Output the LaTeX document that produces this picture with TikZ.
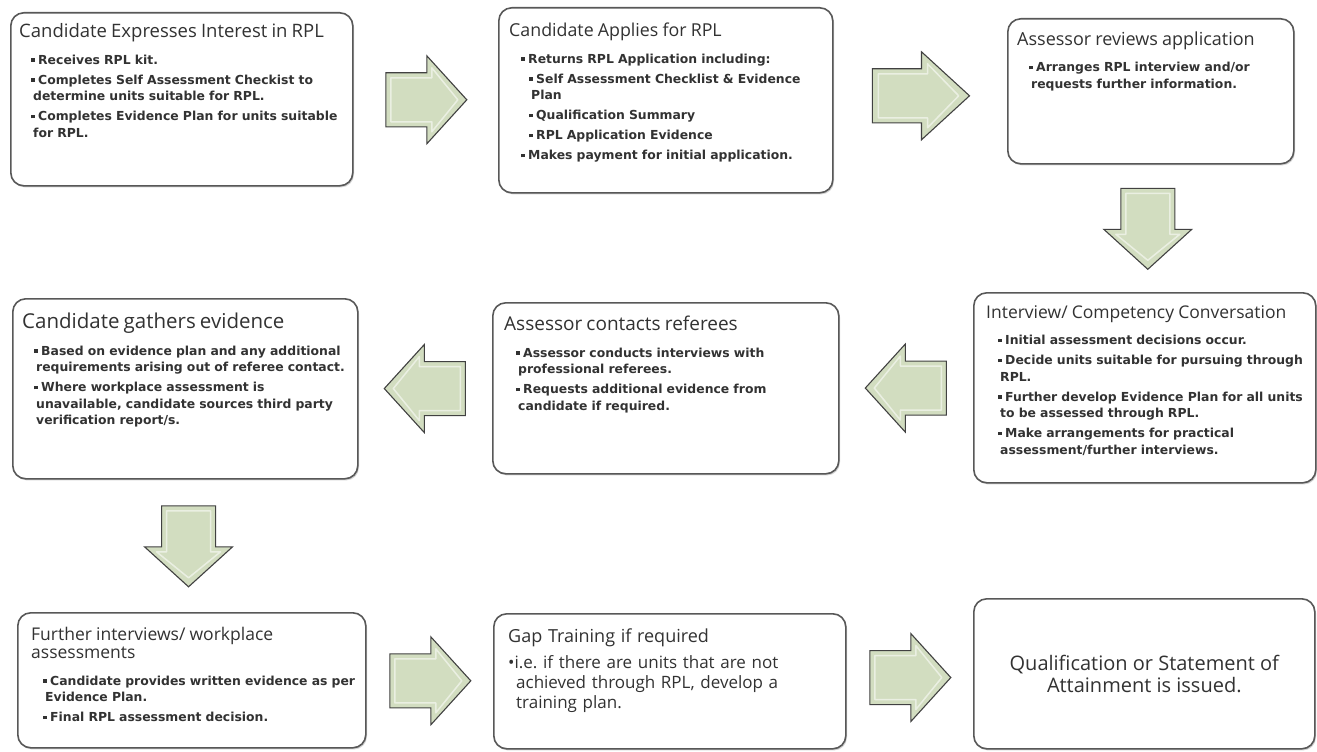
\documentclass[tikz,border=0pt]{standalone}
\usepackage{fontspec}
\setmainfont{DejaVu Sans}
\newfontfamily\headfont{Open Sans}
\usetikzlibrary{calc,shadows}
\frenchspacing

\definecolor{boxline}{RGB}{88,88,88}
\definecolor{textgray}{RGB}{50,50,50}
\definecolor{arrowfill}{RGB}{210,221,192}
\definecolor{arrowline}{RGB}{65,65,65}

\newcommand\boxhead[2]{{\noindent\headfont\mdseries\fontsize{#1}{18.5}\selectfont #2\par}\vspace{6.5pt}}
\newcommand\bitem{\par\vspace{3.5pt}\hangindent=14pt\hangafter=1\noindent\hspace*{12pt}\rule[2.5pt]{3.5pt}{3.5pt}\hspace{3.5pt}}
\newcommand\bsub{\par\vspace{3.5pt}\hangindent=22pt\hangafter=1\noindent\hspace*{20pt}\rule[2.5pt]{3.5pt}{3.5pt}\hspace{3.5pt}}

\begin{document}
\begin{tikzpicture}[x=1pt, y=-1pt,
  stepbox/.style={draw=boxline, line width=1.6pt, fill=white, rounded corners=13pt, anchor=north west, inner sep=0pt,
    drop shadow={shadow xshift=1.2pt, shadow yshift=-1.6pt, opacity=.3, fill=black!60}},
  steptext/.style={anchor=north west, inner sep=0pt, align=left, text=textgray, font=\bfseries\fontsize{12.4}{16.5}\selectfont},
  blockarrow/.pic={
    \filldraw[fill=arrowfill, draw=arrowline, line width=1.1pt] (-40,-27) -- (1,-27) -- (1,-44) -- (41,0) -- (1,44) -- (1,27) -- (-40,27) -- cycle;
    \draw[white, opacity=.55, line width=1.5pt, line join=round] (-35,-22) -- (6,-22) -- (6,-32) -- (32,0) -- (6,32) -- (6,22) -- (-35,22) -- cycle;
  }]
\useasboundingbox (0,0) rectangle (1317,752);

\node[stepbox, minimum width=342, minimum height=173] (b1) at (10,12) {};
\node[stepbox, minimum width=334, minimum height=185] (b2) at (498,7) {};
\node[stepbox, minimum width=286, minimum height=145] (b3) at (1007,18) {};
\node[stepbox, minimum width=345, minimum height=180] (b4) at (12,298) {};
\node[stepbox, minimum width=346, minimum height=171] (b5) at (492,302) {};
\node[stepbox, minimum width=342, minimum height=190] (b6) at (973,292) {};
\node[stepbox, minimum width=348, minimum height=135] (b7) at (17,612) {};
\node[stepbox, minimum width=352, minimum height=135] (b8) at (493,613) {};
\node[stepbox, minimum width=341, minimum height=150] (b9) at (973,598) {};

\node[steptext, text width=330pt] (t1) at ($(b1.north west)+(9,11.5)$) {\boxhead{18.5}{Candidate Expresses Interest in RPL}
\bitem Receives RPL kit.
\bitem Completes Self Assessment Checkist to\newline determine units suitable for RPL.
\bitem Completes Evidence Plan for units suitable\newline for RPL.\par};

\node[steptext, text width=320pt] (t2) at ($(b2.north west)+(11,16)$) {\boxhead{17.8}{Candidate Applies for RPL}
\bitem Returns RPL Application including:
\bsub Self Assessment Checklist \& Evidence\newline Plan
\bsub Qualification Summary
\bsub RPL Application Evidence
\bitem Makes payment for initial application.\par};

\node[steptext, text width=275pt] (t3) at ($(b3.north west)+(10,13.5)$) {\boxhead{18}{Assessor reviews application}
\bitem Arranges RPL interview and/or\newline requests further information.\par};

\node[steptext, text width=335pt] (t4) at ($(b4.north west)+(10,15)$) {\boxhead{20.5}{Candidate gathers evidence}
\bitem Based on evidence plan and any additional\newline requirements arising out of referee contact.
\bitem Where workplace assessment is\newline unavailable, candidate sources third party\newline verification report/s.\par};

\node[steptext, text width=330pt] (t5) at ($(b5.north west)+(12,14)$) {\boxhead{19}{Assessor contacts referees}
\bitem Assessor conducts interviews with\newline professional referees.
\bitem Requests additional evidence from\newline candidate if required.\par};

\node[steptext, text width=330pt] (t6) at ($(b6.north west)+(13,13)$) {\boxhead{17.5}{Interview/ Competency Conversation}
\bitem Initial assessment decisions occur.
\bitem Decide units suitable for pursuing through\newline RPL.
\bitem Further develop Evidence Plan for all units\newline to be assessed through RPL.
\bitem Make arrangements for practical\newline assessment/further interviews.\par};

\node[steptext, text width=335pt] (t7) at ($(b7.north west)+(14,14.5)$) {\boxhead{17.5}{Further interviews/ workplace\newline assessments}
\bitem Candidate provides written evidence as per\newline Evidence Plan.
\bitem Final RPL assessment decision.\par};

\node[steptext, text width=335pt, font=\headfont\fontsize{17}{20}\selectfont] (t8) at ($(b8.north west)+(15,15.5)$) {\boxhead{18}{Gap Training if required}
\hangindent=8pt\hangafter=1\noindent\textbullet i.e. if there are units that are not\newline achieved through RPL, develop a\newline training plan.\par};

\node[align=center, inner sep=0pt, text=textgray, font=\headfont\fontsize{20}{22}\selectfont] (t9) at (b9.center) {Qualification or Statement of\\Attainment is issued.};

\pic at ($(b1.east)!.5!(b2.west)$) {blockarrow};
\pic[xscale=1.2] at ($(b2.east)!.5!(b3.west)$) {blockarrow};
\pic[rotate=-90] at ($(b3.south)!.5!(b6.north)$) {blockarrow};
\pic[rotate=180] at ($(b6.west)!.5!(b5.east)$) {blockarrow};
\pic[rotate=180] at ($(b5.west)!.5!(b4.east)$) {blockarrow};
\pic[rotate=-90] at ($(b4.south)!.5!(b7.north)$) {blockarrow};
\pic at ($(b7.east)!.5!(b8.west)$) {blockarrow};
\pic at ($(b8.east)!.5!(b9.west)$) {blockarrow};
\end{tikzpicture}
\end{document}
